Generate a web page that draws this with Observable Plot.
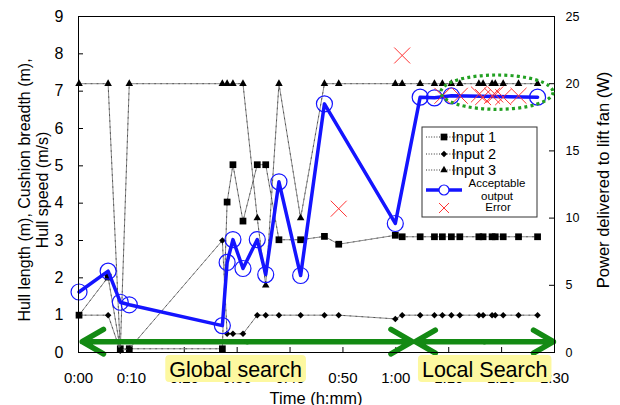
<!DOCTYPE html>
<html><head><meta charset="utf-8">
<script src="https://cdn.jsdelivr.net/npm/d3@7"></script>
<script src="https://cdn.jsdelivr.net/npm/@observablehq/plot@0.6"></script>
<style>
html,body{margin:0;padding:0;background:#fff;}
#chart{width:620px;height:405px;overflow:hidden;}
</style></head><body><div id="chart"></div>
<script>
// ---- data (time in minutes) ----
const times  = [0.1, 5.6, 7.9, 9.6, 27.2, 28.1, 29.2, 31.1, 33.8, 35.4, 37.9, 42.0, 46.5, 49.2, 59.9, 61.2, 64.6, 67.3, 68.8, 70.5, 72.1, 75.7, 76.5, 78.2, 78.8, 80.3, 83.2, 86.8];
const input1 = [1.0, 2.02, 0.1, 0.1, 0.1, 4.03, 5.03, 3.52, 5.03, 5.03, 3.02, 3.02, 3.11, 2.9, 3.14, 3.1, 3.1, 3.1, 3.1, 3.1, 3.1, 3.1, 3.1, 3.1, 3.1, 3.1, 3.1, 3.1];
const input2 = [1.0, 1.0, 0.05, 0.1, 3.0, 0.5, 0.5, 0.5, 1.0, 1.0, 1.0, 1.0, 1.0, 1.0, 0.9, 1.0, 1.0, 1.0, 1.0, 1.0, 1.0, 1.0, 1.0, 1.0, 1.0, 1.0, 1.0, 1.0];
const input3 = [7.2, 7.2, 0.06, 7.2, 7.2, 7.2, 7.2, 7.2, 3.6, 1.8, 7.2, 3.6, 7.2, 7.2, 7.2, 7.2, 7.2, 7.2, 7.2, 7.2, 7.2, 7.2, 7.2, 7.2, 7.2, 7.2, 7.2, 7.2];
const power  = [4.5, 6.05, 3.74, 3.55, 2.0, 6.7, 8.4, 6.25, 8.4, 5.8, 12.7, 5.73, 18.5, 10.7, 9.6, 22.1, 19.0, 18.95, 19.1, 19.1, 19.1, 19.2, 19.0, 19.1, 19.2, 19.0, 19.1, 19.0];
const status = ["ok","ok","ok","ok","ok","ok","ok","ok","ok","ok","ok","ok","ok","error","ok","error","ok","ok","error","ok","error","error","error","error","error","error","error","ok"];

const timeTicks  = [0, 10, 20, 30, 40, 50, 60, 70, 80, 90];
const leftTicks  = [0, 1, 2, 3, 4, 5, 6, 7, 8, 9];
const powerTicks = [0, 5, 10, 15, 20, 25];
const seriesNames = ["Input 1", "Input 2", "Input 3", "Acceptable\noutput", "Error"];
const leftTitle  = ["Hull length (m), Cushion breadth (m),", "Hull speed (m/s)"];
const rightTitle = "Power delivered to lift fan (W)";
const xTitle     = "Time (h:mm)";
const phases = [
  {label: "Global search", start: 0.7,  end: 63.1, labelAt: 29.8, level: 0.29},
  {label: "Local Search",  start: 63.7, end: 89.8, labelAt: 76.9, level: 0.29}
];
const highlight = {t: 79.2, level: 6.96, halfT: 10.6, halfLevel: 0.46};

// ---- build ----
const K = 9 / 25; // power (W) -> left-axis units
const W = 620, H = 405, mL = 78, mR = 66, mT = 16, mB = 53;
const pw = W - mL - mR, ph = H - mT - mB;
const rows = times.map((t, i) => ({t, in1: input1[i], in2: input2[i], in3: input3[i], p: power[i], s: status[i]}));
const ok = rows.filter(r => r.s === "ok");
const err = rows.filter(r => r.s === "error");
const fmt = m => `${Math.floor(m / 60)}:${String(m % 60).padStart(2, "0")}`;
const FONT = "'Liberation Sans', Arial, Helvetica, sans-serif";
const GREEN = "#138a13", BLUE = "#1414ff", RED = "#ff3535", GRAY = "#8a8a8a";

const arrows = phases.flatMap(ph => {
  const mid = (ph.start + ph.end) / 2;
  return [{x1: mid, x2: ph.start, y: ph.level}, {x1: mid, x2: ph.end, y: ph.level}];
});

const inputMarks = [["in1", "square", 3.8, 0], ["in2", "square", 2.6, 45], ["in3", "triangle", 2.8, 0]].flatMap(([key, sym, r, rot]) => [
  Plot.line(rows, {x: "t", y: key, stroke: GRAY, strokeWidth: 1}),
  Plot.line(rows, {x: "t", y: key, stroke: "#222", strokeWidth: 1, strokeDasharray: "1,5", strokeOpacity: 0.55}),
  Plot.dot(rows, {x: "t", y: key, symbol: sym, r, rotate: rot, fill: "black"})
]);

const plot = Plot.plot({
  width: W, height: H,
  marginLeft: mL, marginRight: mR, marginTop: mT, marginBottom: mB,
  x: {domain: [0, 90]},
  y: {domain: [0, 9]},
  style: {fontFamily: FONT, fontSize: "15px", background: "white", color: "black"},
  marks: [
    Plot.axisX({ticks: timeTicks, tickSize: 0, tickPadding: 20, tickFormat: fmt, label: null, fontSize: 15}),
    Plot.axisY({ticks: leftTicks, anchor: "left", tickSize: 0, tickPadding: 15, label: null, fontSize: 16}),
    Plot.axisY({ticks: powerTicks.map(p => p * K), anchor: "right", tickSize: 0, tickPadding: 11, label: null, fontSize: 12.5,
      tickFormat: d => Math.round(d / K)}),
    Plot.tickY(leftTicks, {y: d => d, insetRight: pw - 5, stroke: "black"}),
    Plot.tickY(powerTicks, {y: d => d * K, insetLeft: pw - 5, stroke: "black"}),
    Plot.tickX(timeTicks, {x: d => d, insetTop: ph - 5, stroke: "black"}),
    ...inputMarks,
    Plot.line(ok, {x: "t", y: d => d.p * K, stroke: BLUE, strokeWidth: 3.5}),
    Plot.dot(ok, {x: "t", y: d => d.p * K, r: 8, stroke: BLUE, strokeWidth: 1.2, fill: "none"}),
    Plot.dot(err, {x: "t", y: d => d.p * K, symbol: "times", r: 7.3, stroke: RED, strokeWidth: 1}),
    Plot.arrow(arrows, {x1: "x1", x2: "x2", y1: "y", y2: "y", stroke: GREEN, strokeWidth: 5.5, headLength: 6.7, headAngle: 60}),
    Plot.frame({stroke: "black", strokeWidth: 1})
  ]
});

document.getElementById("chart").appendChild(plot);
const svg = d3.select(plot);
const xs = plot.scale("x"), ys = plot.scale("y");

// highlight ellipse
svg.append("ellipse")
  .attr("cx", xs.apply(highlight.t)).attr("cy", ys.apply(highlight.level))
  .attr("rx", xs.apply(highlight.t + highlight.halfT) - xs.apply(highlight.t))
  .attr("ry", ys.apply(highlight.level - highlight.halfLevel) - ys.apply(highlight.level))
  .attr("fill", "none").attr("stroke", "#22a022").attr("stroke-width", 3.2).attr("stroke-dasharray", "3,3.2");

// phase labels with yellow boxes
phases.forEach(p => {
  const g = svg.append("g");
  const t = g.append("text").attr("x", xs.apply(p.labelAt)).attr("y", H - mB + 25)
    .attr("text-anchor", "middle").attr("font-family", FONT).attr("font-size", 21.5).attr("fill", "black").text(p.label);
  const bb = t.node().getBBox();
  g.insert("rect", "text").attr("x", bb.x - 4).attr("y", H - mB + 3).attr("width", bb.width + 8).attr("height", 27)
    .attr("rx", 4).attr("fill", "#fdf8a0");
});

// axis titles
const lt = svg.append("text").attr("transform", `translate(30,190) rotate(-90)`)
  .attr("text-anchor", "middle").attr("font-family", FONT).attr("font-size", 16).attr("fill", "black");
leftTitle.forEach((s, i) => lt.append("tspan").attr("x", 0).attr("y", i * 17.5).text(s));
svg.append("text").attr("transform", `translate(609,180) rotate(-90)`)
  .attr("text-anchor", "middle").attr("font-family", FONT).attr("font-size", 16.5).attr("fill", "black").text(rightTitle);
svg.append("text").attr("x", mL + pw / 2).attr("y", 404).attr("text-anchor", "middle")
  .attr("font-family", FONT).attr("font-size", 16.5).attr("fill", "black").text(xTitle);

// legend
const lg = svg.append("g").attr("font-family", FONT).attr("fill", "black");
lg.append("rect").attr("x", 422).attr("y", 127).attr("width", 115).attr("height", 90)
  .attr("fill", "white").attr("stroke", "#333").attr("stroke-width", 1);
const ly = [137, 154, 170, 190, 208];
[0, 1, 2].forEach(i => {
  lg.append("line").attr("x1", 426).attr("x2", 462).attr("y1", ly[i]).attr("y2", ly[i])
    .attr("stroke", "#333").attr("stroke-dasharray", "1,1.6");
  const sym = [d3.symbolSquare, d3.symbolSquare, d3.symbolTriangle][i];
  const size = [45, 21, 24][i];
  lg.append("path").attr("d", d3.symbol(sym, size)())
    .attr("transform", `translate(444,${ly[i]}) rotate(${i === 1 ? 45 : 0})`).attr("fill", "black");
  lg.append("text").attr("x", 474).attr("y", ly[i]).attr("dy", "0.36em").attr("font-size", 14.5).text(seriesNames[i]);
});
lg.append("line").attr("x1", 426).attr("x2", 462).attr("y1", ly[3]).attr("y2", ly[3]).attr("stroke", BLUE).attr("stroke-width", 3.5);
lg.append("circle").attr("cx", 444).attr("cy", ly[3]).attr("r", 5).attr("fill", "white").attr("stroke", BLUE).attr("stroke-width", 1.2);
const ao = lg.append("text").attr("text-anchor", "middle").attr("font-size", 11.5);
seriesNames[3].split("\n").forEach((s, i) => ao.append("tspan").attr("x", 497).attr("y", 187 + i * 13).text(s));
lg.append("path").attr("d", "M439,203L449,213M449,203L439,213").attr("stroke", RED).attr("stroke-width", 1);
lg.append("text").attr("x", 498).attr("y", 211).attr("text-anchor", "middle").attr("font-size", 11.5).text(seriesNames[4]);
</script></body></html>
